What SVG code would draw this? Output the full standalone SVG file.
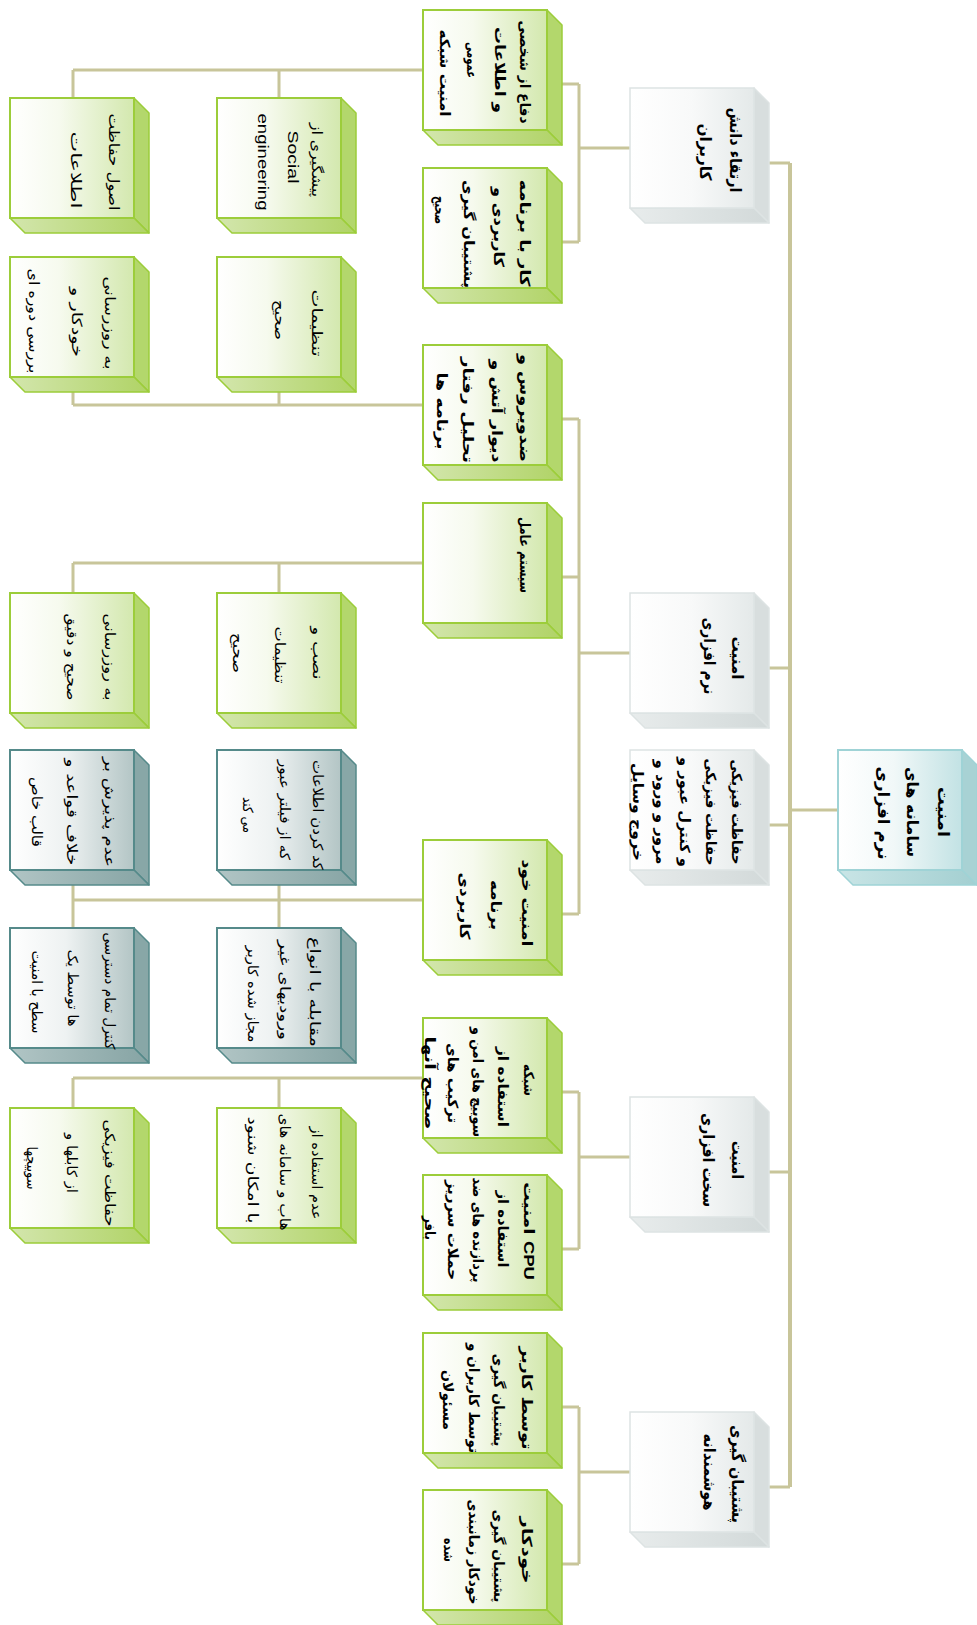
<svg xmlns="http://www.w3.org/2000/svg" xmlns:xlink="http://www.w3.org/1999/xlink" width="977" height="1625" viewBox="0 0 977 1625">
<style>
.ln{stroke:#c8c59a;stroke-width:3;fill:none}
.trunk{stroke:#c8c59a;stroke-width:4;fill:none}
text{font-family:"DejaVu Sans","Noto Sans",sans-serif;fill:#000;text-anchor:middle;dominant-baseline:central}
.t1{font-size:16px;font-weight:bold}
.t2{font-size:14px;font-weight:bold}
.t3{font-size:14px}
.lat{font-family:"Liberation Sans",sans-serif}
</style>
<defs>
<linearGradient id="fg" x1="0" y1="0" x2="1" y2="0"><stop offset="0" stop-color="#ffffff"/><stop offset="0.4" stop-color="#f6faee"/><stop offset="1" stop-color="#d3e8ae"/></linearGradient>
<linearGradient id="bg" x1="0" y1="0" x2="1" y2="0"><stop offset="0" stop-color="#d3e6ad"/><stop offset="1" stop-color="#b0d366"/></linearGradient>
<linearGradient id="fw" x1="0" y1="0" x2="1" y2="0"><stop offset="0" stop-color="#ffffff"/><stop offset="0.5" stop-color="#f8f9f9"/><stop offset="1" stop-color="#e4e9e9"/></linearGradient>
<linearGradient id="bw" x1="0" y1="0" x2="1" y2="0"><stop offset="0" stop-color="#e8ecec"/><stop offset="1" stop-color="#d2d9d9"/></linearGradient>
<linearGradient id="ft" x1="0" y1="0" x2="1" y2="0"><stop offset="0" stop-color="#ffffff"/><stop offset="0.45" stop-color="#eef2f2"/><stop offset="1" stop-color="#b3c5c5"/></linearGradient>
<linearGradient id="bt" x1="0" y1="0" x2="1" y2="0"><stop offset="0" stop-color="#b1c5c5"/><stop offset="1" stop-color="#86a4a4"/></linearGradient>
<linearGradient id="fr" x1="0" y1="0" x2="1" y2="0"><stop offset="0" stop-color="#ffffff"/><stop offset="0.45" stop-color="#f1f8f8"/><stop offset="1" stop-color="#c2e2e4"/></linearGradient>
<linearGradient id="br" x1="0" y1="0" x2="1" y2="0"><stop offset="0" stop-color="#c9e5e6"/><stop offset="1" stop-color="#a3cfd1"/></linearGradient>
<g id="bxG">
<polygon points="124,0 139,15 139,135 124,120" fill="#b3d76c" stroke="#9ccd3a" stroke-width="1.5" stroke-linejoin="round"/>
<polygon points="0,120 124,120 139,135 15,135" fill="url(#bg)" stroke="#9ccd3a" stroke-width="1.5" stroke-linejoin="round"/>
<rect x="0" y="0" width="124" height="120" fill="url(#fg)" stroke="#9ccd3a" stroke-width="2"/>
</g>
<g id="bxW">
<polygon points="124,0 139,15 139,135 124,120" fill="#d8dede" stroke="#dde3e3" stroke-width="1.5" stroke-linejoin="round"/>
<polygon points="0,120 124,120 139,135 15,135" fill="url(#bw)" stroke="#dde3e3" stroke-width="1.5" stroke-linejoin="round"/>
<rect x="0" y="0" width="124" height="120" fill="url(#fw)" stroke="#dde3e3" stroke-width="1.5"/>
</g>
<g id="bxT">
<polygon points="124,0 139,15 139,135 124,120" fill="#88a7a7" stroke="#558a8a" stroke-width="1.5" stroke-linejoin="round"/>
<polygon points="0,120 124,120 139,135 15,135" fill="url(#bt)" stroke="#558a8a" stroke-width="1.5" stroke-linejoin="round"/>
<rect x="0" y="0" width="124" height="120" fill="url(#ft)" stroke="#558a8a" stroke-width="2"/>
</g>
<g id="bxR">
<polygon points="124,0 139,15 139,135 124,120" fill="#a8d2d4" stroke="#9fd3d6" stroke-width="1.5" stroke-linejoin="round"/>
<polygon points="0,120 124,120 139,135 15,135" fill="url(#br)" stroke="#9fd3d6" stroke-width="1.5" stroke-linejoin="round"/>
<rect x="0" y="0" width="124" height="120" fill="url(#fr)" stroke="#9fd3d6" stroke-width="2"/>
</g>
</defs>
<rect width="977" height="1625" fill="#ffffff"/>

<g id="connectors">
<path class="trunk" d="M790,163 V1487"/>
<path class="ln" d="M769,163 H790 M769,668 H790 M769,825 H790 M769,1172 H790 M769,1487 H790 M790,810 H838"/>
<path class="ln" d="M579,84 V242 M562,84 H579 M562,242 H579 M579,148 H630"/>
<path class="ln" d="M579,419 V914 M562,419 H579 M562,577 H579 M562,914 H579 M579,653 H630"/>
<path class="ln" d="M579,1092 V1249 M562,1092 H579 M562,1249 H579 M579,1157 H630"/>
<path class="ln" d="M579,1407 V1564 M562,1407 H579 M562,1564 H579 M579,1472 H630"/>
<path class="ln" d="M73,70 H423 M73,70 V98 M279,70 V98"/>
<path class="ln" d="M73,405 H423 M73,377 V405 M279,377 V405"/>
<path class="ln" d="M73,563 H423 M73,563 V593 M279,563 V593"/>
<path class="ln" d="M73,900 H423 M73,870 V928 M279,870 V928"/>
<path class="ln" d="M73,1078 H423 M73,1078 V1108 M279,1078 V1108"/>
</g>

<g id="root" transform="translate(838,750)"><use xlink:href="#bxR"/>
<text class="t1" transform="translate(105,62) rotate(90)" textLength="50" lengthAdjust="spacingAndGlyphs">امنیت</text>
<text class="t1" transform="translate(74,62) rotate(90)" textLength="90" lengthAdjust="spacingAndGlyphs">سامانه های</text>
<text class="t1" transform="translate(45,63) rotate(90)" textLength="93" lengthAdjust="spacingAndGlyphs">نرم افزاری</text>
</g>

<g id="d1" transform="translate(630,88)"><use xlink:href="#bxW"/>
<text class="t1" transform="translate(105,62) rotate(90)" textLength="85" lengthAdjust="spacingAndGlyphs">ارتقاء دانش</text>
<text class="t1" transform="translate(75,64) rotate(90)" textLength="57" lengthAdjust="spacingAndGlyphs">کاربران</text>
</g>
<g id="d2" transform="translate(630,593)"><use xlink:href="#bxW"/>
<text class="t1" transform="translate(107,65) rotate(90)" textLength="43" lengthAdjust="spacingAndGlyphs">امنیت</text>
<text class="t1" transform="translate(79,63) rotate(90)" textLength="77" lengthAdjust="spacingAndGlyphs">نرم افزاری</text>
</g>
<g id="d3" transform="translate(630,750)"><use xlink:href="#bxW"/>
<text class="t2" transform="translate(107,62) rotate(90)" textLength="105" lengthAdjust="spacingAndGlyphs">حفاظت فیزیکی</text>
<text class="t2" transform="translate(81,62) rotate(90)" textLength="107" lengthAdjust="spacingAndGlyphs">حفاظت فیزیکی</text>
<text class="t2" transform="translate(55,62) rotate(90)" textLength="110" lengthAdjust="spacingAndGlyphs">و کنترل عبور و</text>
<text class="t2" transform="translate(31,62) rotate(90)" textLength="105" lengthAdjust="spacingAndGlyphs">مرور و ورود و</text>
<text class="t2" transform="translate(8,62) rotate(90)" textLength="98" lengthAdjust="spacingAndGlyphs">خروج وسایل</text>
</g>
<g id="d4" transform="translate(630,1097)"><use xlink:href="#bxW"/>
<text class="t1" transform="translate(107,63) rotate(90)" textLength="38" lengthAdjust="spacingAndGlyphs">امنیت</text>
<text class="t1" transform="translate(78,63) rotate(90)" textLength="94" lengthAdjust="spacingAndGlyphs">سخت افزاری</text>
</g>
<g id="d5" transform="translate(630,1412)"><use xlink:href="#bxW"/>
<text class="t1" transform="translate(107,62) rotate(90)" textLength="98" lengthAdjust="spacingAndGlyphs">پشتیبان گیری</text>
<text class="t1" transform="translate(79,60) rotate(90)" textLength="77" lengthAdjust="spacingAndGlyphs">هوشمندانه</text>
</g>

<g id="c1" transform="translate(423,10)"><use xlink:href="#bxG"/>
<text class="t2" transform="translate(102,62) rotate(90)" textLength="103" lengthAdjust="spacingAndGlyphs">دفاع از شخصی</text>
<text class="t2" transform="translate(77,60) rotate(90)" textLength="86" lengthAdjust="spacingAndGlyphs">و اطلاعات</text>
<text class="t2" transform="translate(49,50) rotate(90)" textLength="36" lengthAdjust="spacingAndGlyphs">عمومی</text>
<text class="t2" transform="translate(22,63) rotate(90)" textLength="87" lengthAdjust="spacingAndGlyphs">امنیت شبکه</text>
</g>
<g id="c2" transform="translate(423,168)"><use xlink:href="#bxG"/>
<text class="t2" transform="translate(102,65) rotate(90)" textLength="107" lengthAdjust="spacingAndGlyphs">کار با برنامه</text>
<text class="t2" transform="translate(76,59) rotate(90)" textLength="80" lengthAdjust="spacingAndGlyphs">کاربردی و</text>
<text class="t2" transform="translate(46,66) rotate(90)" textLength="108" lengthAdjust="spacingAndGlyphs">پشتیبان گیری</text>
<text class="t2" transform="translate(17,42) rotate(90)" textLength="28" lengthAdjust="spacingAndGlyphs">صحیح</text>
</g>
<g id="c3" transform="translate(423,345)"><use xlink:href="#bxG"/>
<text class="t2" transform="translate(102,63) rotate(90)" textLength="108" lengthAdjust="spacingAndGlyphs">ضدویروس و</text>
<text class="t2" transform="translate(74,66) rotate(90)" textLength="103" lengthAdjust="spacingAndGlyphs">دیوار آتش و</text>
<text class="t2" transform="translate(45,65) rotate(90)" textLength="106" lengthAdjust="spacingAndGlyphs">تحلیل رفتار</text>
<text class="t2" transform="translate(19,66) rotate(90)" textLength="77" lengthAdjust="spacingAndGlyphs">برنامه ها</text>
</g>
<g id="c4" transform="translate(423,503)"><use xlink:href="#bxG"/>
<text class="t2" transform="translate(102,52) rotate(90)" textLength="76" lengthAdjust="spacingAndGlyphs">سیستم عامل</text>
</g>
<g id="c5" transform="translate(423,840)"><use xlink:href="#bxG"/>
<text class="t2" transform="translate(104,63) rotate(90)" textLength="87" lengthAdjust="spacingAndGlyphs">امنیت خود</text>
<text class="t2" transform="translate(73,65) rotate(90)" textLength="50" lengthAdjust="spacingAndGlyphs">برنامه</text>
<text class="t2" transform="translate(42,66) rotate(90)" textLength="67" lengthAdjust="spacingAndGlyphs">کاربردی</text>
</g>
<g id="c6" transform="translate(423,1018)"><use xlink:href="#bxG"/>
<text class="t2" transform="translate(106,62) rotate(90)" textLength="32" lengthAdjust="spacingAndGlyphs">شبکه</text>
<text class="t2" transform="translate(80,69) rotate(90)" textLength="80" lengthAdjust="spacingAndGlyphs">استفاده از</text>
<text class="t2" transform="translate(55,64) rotate(90)" textLength="110" lengthAdjust="spacingAndGlyphs">سوییچ های امن و</text>
<text class="t2" transform="translate(30,65) rotate(90)" textLength="80" lengthAdjust="spacingAndGlyphs">ترکیب های</text>
<text class="t2" transform="translate(7,65) rotate(90)" textLength="93" lengthAdjust="spacingAndGlyphs">صحیح آنها</text>
</g>
<g id="c7" transform="translate(423,1175)"><use xlink:href="#bxG"/>
<text class="t2" transform="translate(106,56) rotate(90)" textLength="98" lengthAdjust="spacingAndGlyphs">امنیت <tspan class="lat">CPU</tspan></text>
<text class="t2" transform="translate(80,54) rotate(90)" textLength="77" lengthAdjust="spacingAndGlyphs">استفاده از</text>
<text class="t2" transform="translate(55,55) rotate(90)" textLength="105" lengthAdjust="spacingAndGlyphs">پردازنده های ضد</text>
<text class="t2" transform="translate(30,55) rotate(90)" textLength="100" lengthAdjust="spacingAndGlyphs">حملات سرریز</text>
<text class="t2" transform="translate(7,53) rotate(90)" textLength="24" lengthAdjust="spacingAndGlyphs">بافر</text>
</g>
<g id="c8" transform="translate(423,1333)"><use xlink:href="#bxG"/>
<text class="t2" transform="translate(104,65) rotate(90)" textLength="103" lengthAdjust="spacingAndGlyphs">توسط کاربر</text>
<text class="t2" transform="translate(76,67) rotate(90)" textLength="93" lengthAdjust="spacingAndGlyphs">پشتیبان گیری</text>
<text class="t2" transform="translate(51,65) rotate(90)" textLength="110" lengthAdjust="spacingAndGlyphs">توسط کاربران و</text>
<text class="t2" transform="translate(25,67) rotate(90)" textLength="60" lengthAdjust="spacingAndGlyphs">مسئولان</text>
</g>
<g id="c9" transform="translate(423,1490)"><use xlink:href="#bxG"/>
<text class="t2" transform="translate(104,60) rotate(90)" textLength="67" lengthAdjust="spacingAndGlyphs">خودکار</text>
<text class="t2" transform="translate(76,66) rotate(90)" textLength="93" lengthAdjust="spacingAndGlyphs">پشتیبان گیری</text>
<text class="t2" transform="translate(51,62) rotate(90)" textLength="105" lengthAdjust="spacingAndGlyphs">خودکار زمانبندی</text>
<text class="t2" transform="translate(26,60) rotate(90)" textLength="24" lengthAdjust="spacingAndGlyphs">شده</text>
</g>

<g id="a1" transform="translate(10,98)"><use xlink:href="#bxG"/>
<text class="t3" transform="translate(104,64) rotate(90)" textLength="97" lengthAdjust="spacingAndGlyphs">اصول حفاظت</text>
<text class="t3" transform="translate(66,72) rotate(90)" textLength="77" lengthAdjust="spacingAndGlyphs">اطلاعات</text>
</g>
<g id="b1" transform="translate(217,98)"><use xlink:href="#bxG"/>
<text class="t3" transform="translate(100,62) rotate(90)" textLength="74" lengthAdjust="spacingAndGlyphs">پیشگیری از</text>
<text class="t3 lat" transform="translate(76,59) rotate(90)" textLength="53" lengthAdjust="spacingAndGlyphs">Social</text>
<text class="t3 lat" transform="translate(46,64) rotate(90)" textLength="97" lengthAdjust="spacingAndGlyphs">engineering</text>
</g>
<g id="a2" transform="translate(10,257)"><use xlink:href="#bxG"/>
<text class="t3" transform="translate(100,66) rotate(90)" textLength="93" lengthAdjust="spacingAndGlyphs">به روزرسانی</text>
<text class="t3" transform="translate(67,65) rotate(90)" textLength="70" lengthAdjust="spacingAndGlyphs">خودکار و</text>
<text class="t3" transform="translate(24,64) rotate(90)" textLength="105" lengthAdjust="spacingAndGlyphs">بررسی دوره ای</text>
</g>
<g id="b2" transform="translate(217,257)"><use xlink:href="#bxG"/>
<text class="t3" transform="translate(100,66) rotate(90)" textLength="67" lengthAdjust="spacingAndGlyphs">تنظیمات</text>
<text class="t3" transform="translate(63,63) rotate(90)" textLength="40" lengthAdjust="spacingAndGlyphs">صحیح</text>
</g>
<g id="a3" transform="translate(10,593)"><use xlink:href="#bxG"/>
<text class="t3" transform="translate(100,64) rotate(90)" textLength="87" lengthAdjust="spacingAndGlyphs">به روزرسانی</text>
<text class="t3" transform="translate(62,64) rotate(90)" textLength="87" lengthAdjust="spacingAndGlyphs">صحیح و دقیق</text>
</g>
<g id="b3" transform="translate(217,593)"><use xlink:href="#bxG"/>
<text class="t3" transform="translate(101,60) rotate(90)" textLength="53" lengthAdjust="spacingAndGlyphs">نصب و</text>
<text class="t3" transform="translate(63,62) rotate(90)" textLength="57" lengthAdjust="spacingAndGlyphs">تنظیمات</text>
<text class="t3" transform="translate(21,60) rotate(90)" textLength="40" lengthAdjust="spacingAndGlyphs">صحیح</text>
</g>
<g id="a4" transform="translate(10,750)"><use xlink:href="#bxT"/>
<text class="t3" transform="translate(100,62) rotate(90)" textLength="110" lengthAdjust="spacingAndGlyphs">عدم پذیرش بر</text>
<text class="t3" transform="translate(62,62) rotate(90)" textLength="107" lengthAdjust="spacingAndGlyphs">خلاف قواعد و</text>
<text class="t3" transform="translate(27,62) rotate(90)" textLength="70" lengthAdjust="spacingAndGlyphs">قالب خاص</text>
</g>
<g id="b4" transform="translate(217,750)"><use xlink:href="#bxT"/>
<text class="t3" transform="translate(101,65) rotate(90)" textLength="110" lengthAdjust="spacingAndGlyphs">کد کردن اطلاعات</text>
<text class="t3" transform="translate(68,60) rotate(90)" textLength="100" lengthAdjust="spacingAndGlyphs">که از فیلتر عبور</text>
<text class="t3" transform="translate(31,65) rotate(90)" textLength="36" lengthAdjust="spacingAndGlyphs">می کند</text>
</g>
<g id="a5" transform="translate(10,928)"><use xlink:href="#bxT"/>
<text class="t3" transform="translate(100,63) rotate(90)" textLength="117" lengthAdjust="spacingAndGlyphs">کنترل تمام دسترسی</text>
<text class="t3" transform="translate(63,60) rotate(90)" textLength="77" lengthAdjust="spacingAndGlyphs">ها توسط یک</text>
<text class="t3" transform="translate(27,64) rotate(90)" textLength="83" lengthAdjust="spacingAndGlyphs">سطح با امنیت</text>
</g>
<g id="b5" transform="translate(217,928)"><use xlink:href="#bxT"/>
<text class="t3" transform="translate(98,64) rotate(90)" textLength="110" lengthAdjust="spacingAndGlyphs">مقابله با انواع</text>
<text class="t3" transform="translate(68,62) rotate(90)" textLength="100" lengthAdjust="spacingAndGlyphs">ورودیهای غیر</text>
<text class="t3" transform="translate(36,66) rotate(90)" textLength="97" lengthAdjust="spacingAndGlyphs">مجاز شده کاربر</text>
</g>
<g id="a6" transform="translate(10,1108)"><use xlink:href="#bxG"/>
<text class="t3" transform="translate(100,65) rotate(90)" textLength="107" lengthAdjust="spacingAndGlyphs">حفاظت فیزیکی</text>
<text class="t3" transform="translate(62,55) rotate(90)" textLength="60" lengthAdjust="spacingAndGlyphs">از کابلها و</text>
<text class="t3" transform="translate(22,60) rotate(90)" textLength="43" lengthAdjust="spacingAndGlyphs">سوییچها</text>
</g>
<g id="b6" transform="translate(217,1108)"><use xlink:href="#bxG"/>
<text class="t3" transform="translate(100,65) rotate(90)" textLength="93" lengthAdjust="spacingAndGlyphs">عدم استفاده از</text>
<text class="t3" transform="translate(68,64) rotate(90)" textLength="117" lengthAdjust="spacingAndGlyphs">هاب و سامانه های</text>
<text class="t3" transform="translate(36,62) rotate(90)" textLength="107" lengthAdjust="spacingAndGlyphs">با امکان شنود</text>
</g>
</svg>
